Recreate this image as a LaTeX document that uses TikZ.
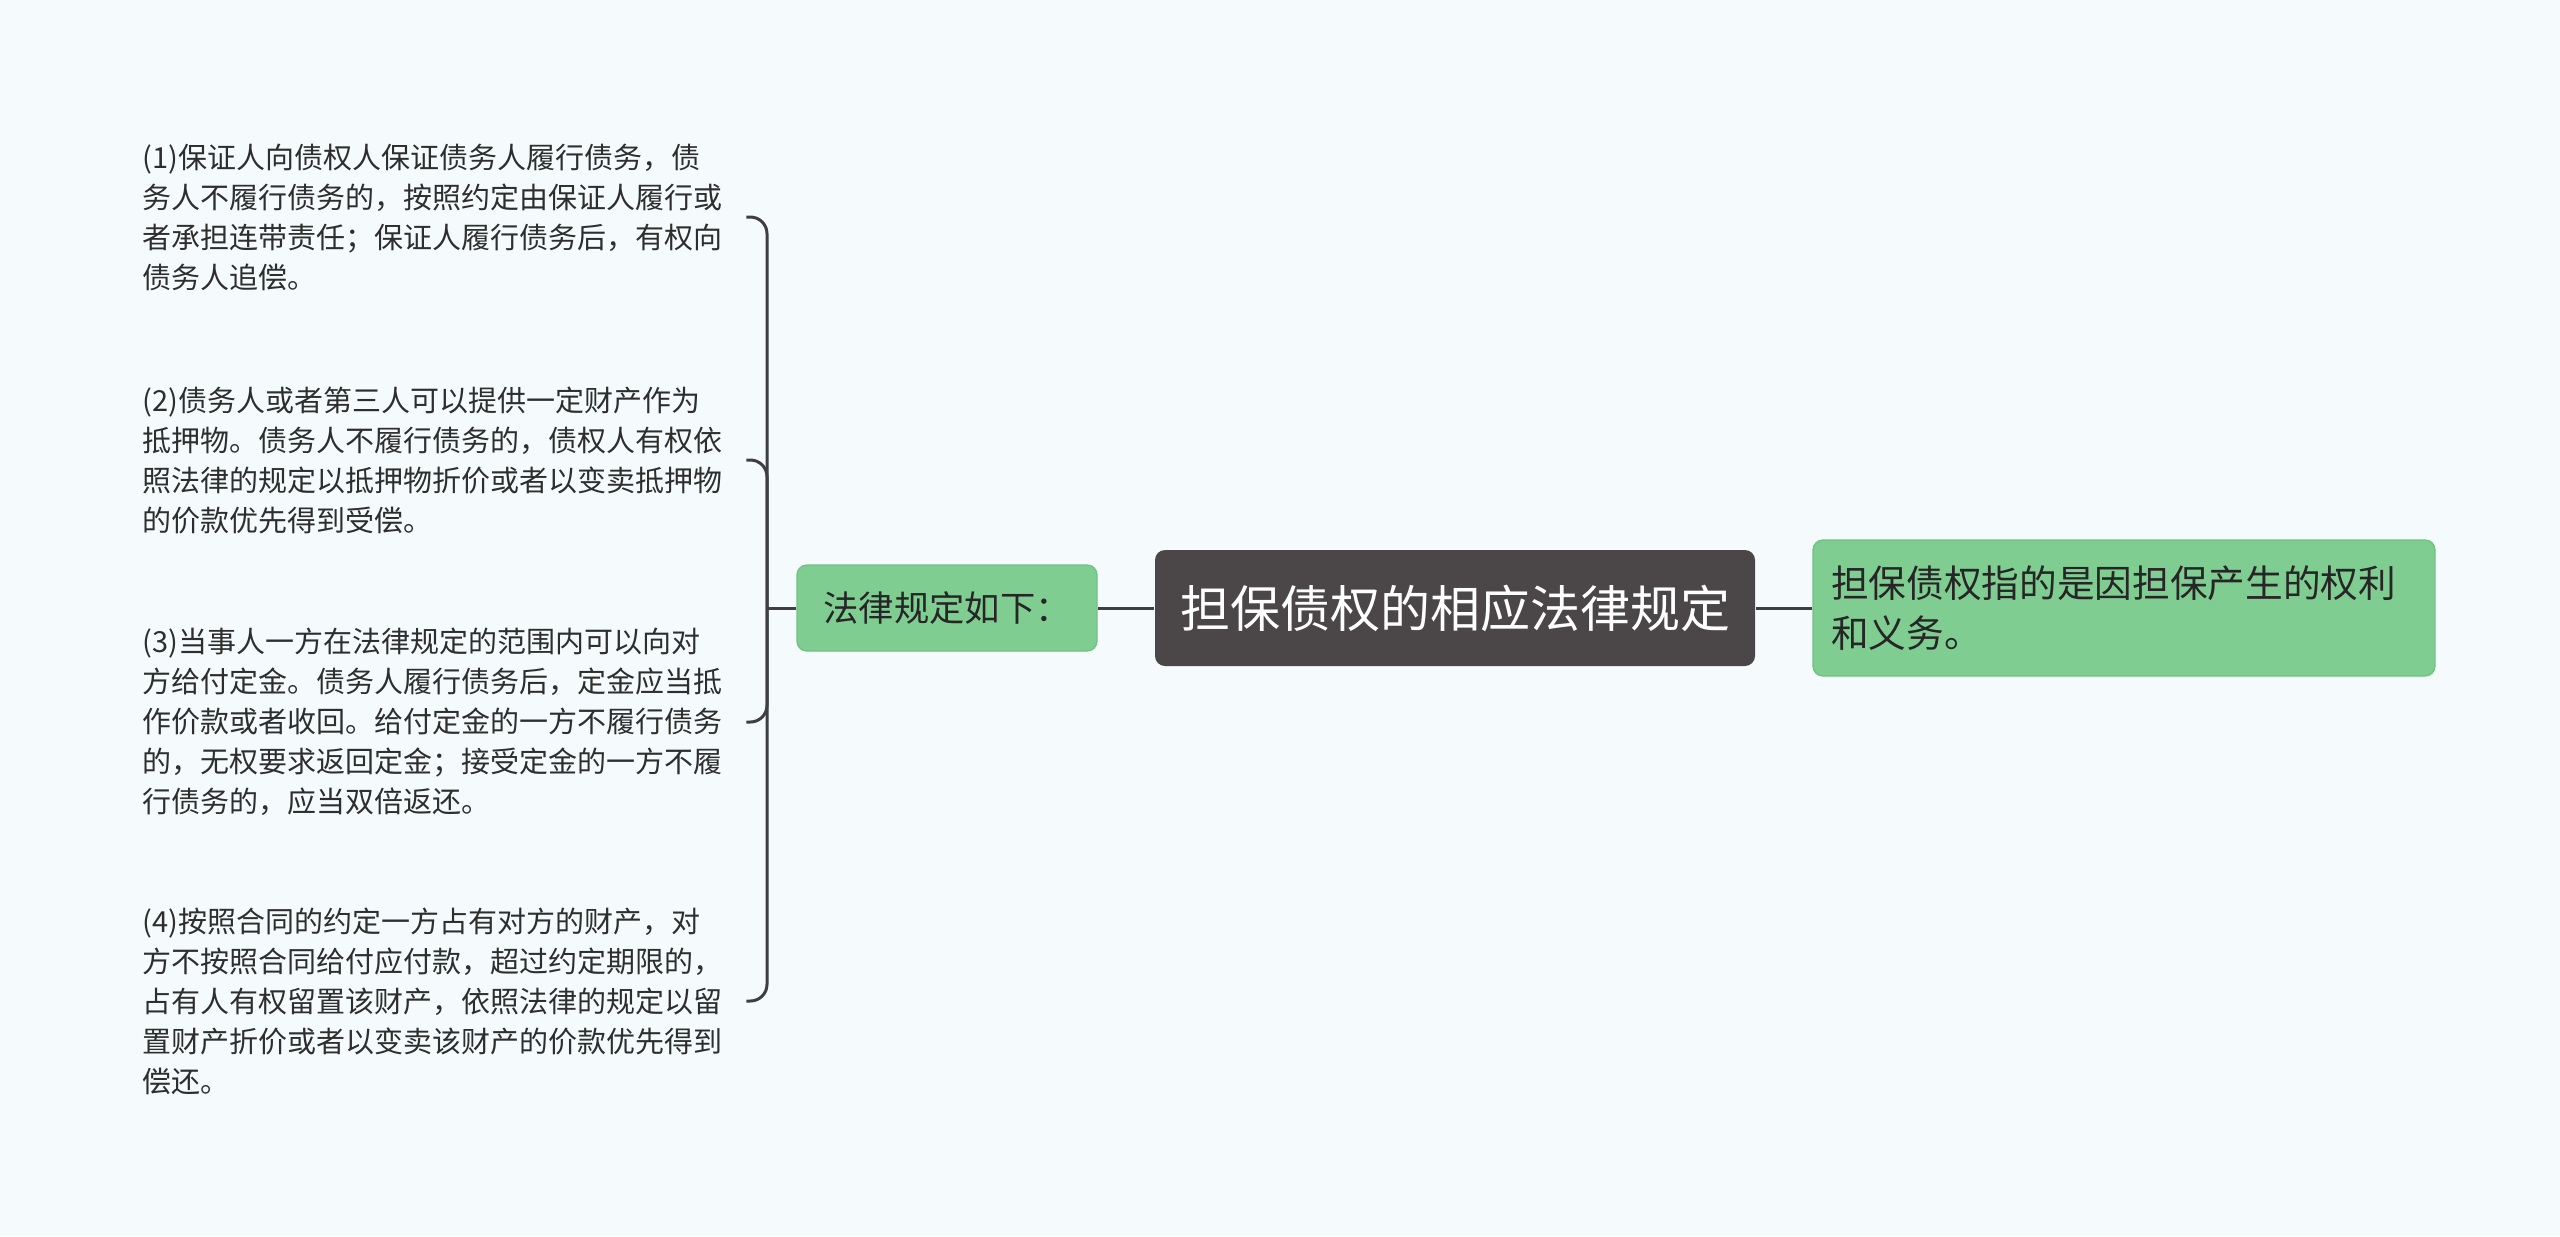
\documentclass[tikz,border=0pt]{standalone}
\usepackage{fontspec}
\setmainfont{Noto Sans CJK SC}
\usetikzlibrary{positioning}
\definecolor{bgcol}{HTML}{F5FBFC}
\definecolor{rootcol}{HTML}{4B4647}
\definecolor{topiccol}{HTML}{80CD92}
\definecolor{topicline}{HTML}{70C283}
\definecolor{linkcol}{HTML}{3F3F3F}
\definecolor{leafcol}{HTML}{2E2E2E}
\begin{document}
\begin{tikzpicture}[x=0.3pt, y=-0.3pt,
    rootbox/.style={rectangle, rounded corners=3pt, fill=rootcol, text=white, font=\fontsize{15}{18}\selectfont, minimum width=180pt, minimum height=34.8pt},
    topicbox/.style={rectangle, rounded corners=3pt, fill=topiccol, draw=topicline, line width=0.4pt, text=black!85},
    leaf/.style={anchor=west, align=left, text width=179pt, inner sep=2pt, text=leafcol, font=\fontsize{8.7}{12}\selectfont},
    link/.style={draw=linkcol, line width=0.9pt},
    node distance=17pt
]
\fill[bgcol] (0,0) rectangle (2560,1236);

\node[rootbox] (root) at (1455,608) {担保债权的相应法律规定};
\node[topicbox, left=of root, minimum width=90pt, minimum height=25.8pt, font=\fontsize{10.6}{13}\selectfont] (rules) {法律规定如下：};
\node[topicbox, right=of root, text width=175.8pt, inner xsep=5.4pt, minimum height=40.8pt, align=left, font=\fontsize{11.3}{15.2}\selectfont] (meaning) {担保债权指的是因担保产生的权利\\和义务。};

\node[leaf] (l1) at (135,217) {(1)保证人向债权人保证债务人履行债务，债\\务人不履行债务的，按照约定由保证人履行或\\者承担连带责任；保证人履行债务后，有权向\\债务人追偿。};
\node[leaf] (l2) at (135,460) {(2)债务人或者第三人可以提供一定财产作为\\抵押物。债务人不履行债务的，债权人有权依\\照法律的规定以抵押物折价或者以变卖抵押物\\的价款优先得到受偿。};
\node[leaf] (l3) at (135,722) {(3)当事人一方在法律规定的范围内可以向对\\方给付定金。债务人履行债务后，定金应当抵\\作价款或者收回。给付定金的一方不履行债务\\的，无权要求返回定金；接受定金的一方不履\\行债务的，应当双倍返还。};
\node[leaf] (l4) at (135,1001) {(4)按照合同的约定一方占有对方的财产，对\\方不按照合同给付应付款，超过约定期限的，\\占有人有权留置该财产，依照法律的规定以留\\置财产折价或者以变卖该财产的价款优先得到\\偿还。};

\coordinate (jn) at (767,608);
\draw[link] (root) -- (rules);
\draw[link] (root) -- (meaning);
\draw[link] (rules) -- (jn);
\foreach \n in {l1,l2,l3,l4}
  \draw[link, rounded corners=5pt] (jn) |- (\n.east);
\end{tikzpicture}
\end{document}
